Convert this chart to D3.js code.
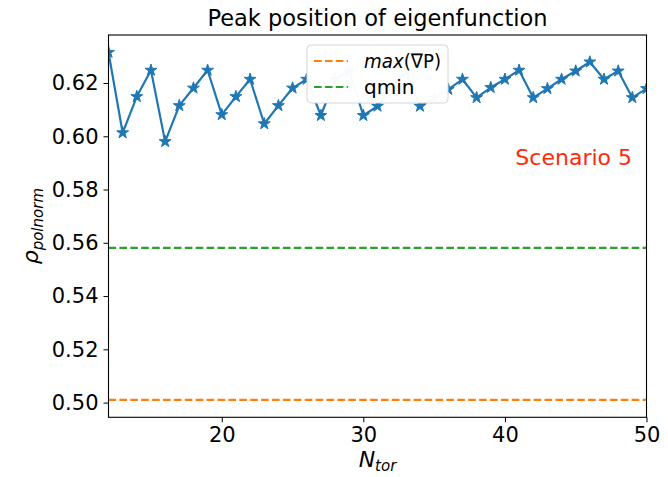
<!DOCTYPE html>
<html>
<head>
<meta charset="utf-8">
<script src="https://cdn.jsdelivr.net/npm/d3@7"></script>
<style>
  html, body { margin: 0; padding: 0; background: #fff; }
  svg { display: block; font-family: "DejaVu Sans", sans-serif; }
</style>
</head>
<body>
<svg id="chart" width="668" height="477"></svg>
<script>
// ---- data ----
const nTor = [12,13,14,15,16,17,18,19,20,21,22,23,24,25,26,27,28,29,30,31,32,33,34,35,36,37,38,39,40,41,42,43,44,45,46,47,48,49,50];
const peakPos = [0.6315,0.6013,0.6149,0.6248,0.5980,0.6115,0.6181,0.6248,0.6081,0.6149,0.6214,0.6047,0.6115,0.6181,0.6214,0.6078,0.6214,0.6245,0.6078,0.6113,0.6181,0.6245,0.6113,0.6145,0.6176,0.6214,0.6145,0.6183,0.6214,0.6248,0.6145,0.6179,0.6214,0.6245,0.6279,0.6214,0.6245,0.6145,0.6179];
const maxGradP = 0.5010;
const qmin = 0.5581;
const xTicks = [20,30,40,50];
const yTicks = [0.50,0.52,0.54,0.56,0.58,0.60,0.62];
const titleText = "Peak position of eigenfunction";
const annotation = "Scenario 5";

// ---- layout ----
const svg = d3.select("#chart");
const L = 108.5, R = 646.5, T = 35, B = 417.3;
const x = d3.scaleLinear().domain([12, 50]).range([L, R]);
const allY = peakPos.concat([maxGradP, qmin]);
const yMin = d3.min(allY), yMax = d3.max(allY), pad = (yMax - yMin) * 0.05;
const y = d3.scaleLinear().domain([yMin - pad, yMax + pad]).range([B, T]);

const blue = "#1f77b4", orange = "#ff7f0e", green = "#2ca02c";

// horizontal reference lines
svg.append("line").attr("x1", L).attr("x2", R).attr("y1", y(maxGradP)).attr("y2", y(maxGradP))
  .attr("stroke", orange).attr("stroke-width", 2.2).attr("stroke-dasharray", "7.6,3.3");
svg.append("line").attr("x1", L).attr("x2", R).attr("y1", y(qmin)).attr("y2", y(qmin))
  .attr("stroke", green).attr("stroke-width", 2.2).attr("stroke-dasharray", "7.6,3.3");

// clip for series
svg.append("clipPath").attr("id", "clip").append("rect")
  .attr("x", L).attr("y", T).attr("width", R - L).attr("height", B - T);
const g = svg.append("g").attr("clip-path", "url(#clip)");
const pts = nTor.map((n, i) => [n, peakPos[i]]);
g.append("path").datum(pts)
  .attr("d", d3.line().x(d => x(d[0])).y(d => y(d[1])))
  .attr("fill", "none").attr("stroke", blue).attr("stroke-width", 2.2).attr("stroke-linejoin", "round");
const star = d3.symbol().type(d3.symbolStar).size(44);
g.selectAll("path.pt").data(pts).enter().append("path").attr("class", "pt")
  .attr("d", star)
  .attr("transform", d => `translate(${x(d[0])},${y(d[1])})`)
  .attr("fill", blue).attr("stroke", blue).attr("stroke-width", 1);

// axes
const xAxis = d3.axisBottom(x).tickValues(xTicks).tickFormat(d3.format("d")).tickSize(5).tickPadding(5);
const yAxis = d3.axisLeft(y).tickValues(yTicks).tickFormat(d3.format(".2f")).tickSize(5).tickPadding(5);
const gx = svg.append("g").attr("transform", `translate(0,${B})`).call(xAxis);
const gy = svg.append("g").attr("transform", `translate(${L},0)`).call(yAxis);
[gx, gy].forEach(a => {
  a.select(".domain").remove();
  a.selectAll("line").attr("stroke", "#000").attr("stroke-width", 1);
  a.selectAll("text").attr("fill", "#000").style("font-size", "21px").style("font-family", "DejaVu Sans");
});
// frame
svg.append("rect").attr("x", L).attr("y", T).attr("width", R - L).attr("height", B - T)
  .attr("fill", "none").attr("stroke", "#000").attr("stroke-width", 1.1);

// title
svg.append("text").attr("x", (L + R) / 2).attr("y", 26).attr("text-anchor", "middle")
  .style("font-size", "22.5px").attr("fill", "#000").text(titleText);

// x label
const xl = svg.append("text").attr("x", (L + R) / 2).attr("y", 467).attr("text-anchor", "middle")
  .style("font-size", "22px").attr("fill", "#000");
xl.append("tspan").style("font-style", "italic").text("N");
xl.append("tspan").style("font-style", "italic").style("font-size", "15px").attr("dy", 4).text("tor");

// y label
const yl = svg.append("text").attr("transform", `translate(38,${(T + B) / 2}) rotate(-90)`)
  .attr("text-anchor", "middle").style("font-size", "22px").attr("fill", "#000");
yl.append("tspan").style("font-style", "italic").text("ρ");
yl.append("tspan").style("font-style", "italic").style("font-size", "15px").attr("dy", 5).text("polnorm");

// annotation
svg.append("text").attr("x", 632).attr("y", 165).attr("text-anchor", "end")
  .style("font-size", "22px").attr("fill", "#ff2a0a").text(annotation);

// legend
const lgW = 141, lgH = 58, lgX = (L + R) / 2 - lgW / 2, lgY = T + 10;
const lg = svg.append("g");
lg.append("rect").attr("x", lgX).attr("y", lgY).attr("width", lgW).attr("height", lgH)
  .attr("rx", 4).attr("fill", "#fff").attr("fill-opacity", 0.97).attr("stroke", "#d6d6d6").attr("stroke-width", 1);
const entries = [{color: orange, key: "max"}, {color: green, key: "qmin"}];
entries.forEach((e, i) => {
  const cy = lgY + 16 + i * 26;
  lg.append("line").attr("x1", lgX + 7).attr("x2", lgX + 41).attr("y1", cy).attr("y2", cy)
    .attr("stroke", e.color).attr("stroke-width", 2.2).attr("stroke-dasharray", "7.6,3.3");
  const t = lg.append("text").attr("x", lgX + 57).attr("y", cy + 7).style("font-size", "20px").attr("fill", "#000");
  if (e.key === "max") {
    t.attr("textLength", 77).attr("lengthAdjust", "spacingAndGlyphs");
    t.append("tspan").style("font-style", "italic").text("max");
    t.append("tspan").text("(∇P)");
  } else {
    t.text("qmin");
  }
});
</script>
</body>
</html>
